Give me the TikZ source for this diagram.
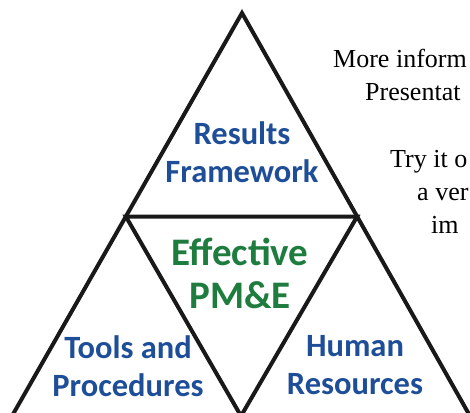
\documentclass[tikz,border=0pt]{standalone}
\usepackage{fontspec}
\setmainfont{Liberation Serif}
\newfontfamily\labelfont{Carlito}
\usepackage{tikz}
\usetikzlibrary{calc}
\definecolor{pmblue}{HTML}{1F4E99}
\definecolor{pmgreen}{HTML}{1E7D3E}
\tikzset{
  part/.style={font=\labelfont\bfseries\fontsize{32.5}{38.5}\selectfont, text=pmblue, align=center, inner sep=0pt},
  core/.style={font=\labelfont\bfseries\fontsize{39}{43}\selectfont, text=pmgreen, align=center, inner sep=0pt},
  note/.style={font=\fontsize{26}{33}\selectfont, anchor=base west, inner sep=0pt},
  edgeline/.style={draw=black!90, line width=4pt, line join=miter}
}

\begin{document}
\begin{tikzpicture}[x=1pt, y=-1pt]
  \useasboundingbox (0,0) rectangle (470,412);
  \clip (0,0) rectangle (470,412);

  \coordinate (top) at (242,13);
  \coordinate (bl) at (12,416);
  \coordinate (br) at (470,416);
  \coordinate (ml) at ($(top)!0.505!(bl)$);
  \coordinate (mr) at ($(top)!0.505!(br)$);
  \coordinate (bm) at ($(bl)!0.5!(br)$);

  % text on the right, cut off in the original
  \node (more) [note] at (333,67) {More inform};
  \node (pres) [note] at (365,100) {Presentat};
  \node (try) [note] at (390,167) {Try it o};
  \node (aver) [note] at (417,200) {a ver};
  \node (im) [note] at (431,233) {im};

  \draw [edgeline] (top) -- (bl) -- (br) -- cycle;
  \draw [edgeline] (ml) -- (mr) -- (bm) -- cycle;

  \node (results) [part] at (242,152) {Results\\Framework};
  \node (effective) [core] at (240,273) {Effective\\PM\&E};
  \node (tools) [part] at (128,366) {Tools and\\Procedures};
  \node (human) [part] at (355,365) {Human\\Resources};
\end{tikzpicture}
\end{document}
